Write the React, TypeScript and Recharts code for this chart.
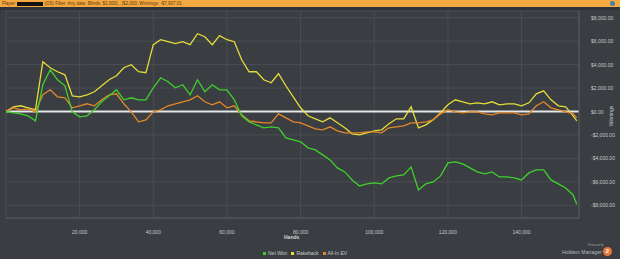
import React from 'react';
import { LineChart, Line, XAxis, YAxis, CartesianGrid, ReferenceLine } from 'recharts';

const hands = [
  0, 2000, 4000, 6000, 8000, 10000, 12000, 14000, 16000, 18000,
  20000, 22000, 24000, 26000, 28000, 30000, 32000, 34000, 36000, 38000,
  40000, 42000, 44000, 46000, 48000, 50000, 52000, 54000, 56000, 58000,
  60000, 62000, 64000, 66000, 68000, 70000, 72000, 74000, 76000, 78000,
  80000, 82000, 84000, 86000, 88000, 90000, 92000, 94000, 96000, 98000,
  100000, 102000, 104000, 106000, 108000, 110000, 112000, 114000, 116000, 118000,
  120000, 122000, 124000, 126000, 128000, 130000, 132000, 134000, 136000, 138000,
  140000, 142000, 144000, 146000, 148000, 150000, 152000, 154000, 155000,
];

const netWon = [
  0, -111, -196, -367, -794, 2280, 3561, 2707, 2195, -26,
  -453, -367, 145, 828, 1341, 1853, 999, 1170, 999, 999,
  2024, 2878, 2536, 2024, 2280, 1426, 2707, 1682, 2280, 1853,
  1853, 999, -367, -880, -1136, -1392, -1307, -1392, -2246, -2417,
  -2588, -3100, -3271, -3698, -4125, -4808, -5150, -5833, -6345, -6174,
  -6089, -6174, -5662, -5491, -5406, -4723, -6687, -6174, -6004, -5491,
  -4381, -4296, -4466, -4808, -5150, -5320, -5150, -5577, -5577, -5662,
  -5833, -5235, -4979, -4979, -5833, -6174, -6516, -7114, -7907,
];

const rakeback = [
  0, 400, 490, 320, 150, 4240, 3730, 3390, 3130, 1340,
  1255, 1426, 1682, 2195, 2707, 3049, 3732, 3988, 3390, 3305,
  5696, 6123, 5952, 5782, 5952, 5696, 6636, 6379, 5696, 6465,
  6123, 5952, 4415, 3390, 3390, 2707, 2451, 3220, 2195, 1255,
  316, -367, -623, -880, -538, -965, -1392, -1904, -1990, -1819,
  -1648, -1563, -1050, -623, -623, 401, -1392, -1136, -709, -111,
  572, 999, 828, 658, 743, 658, 828, 572, 658, 658,
  487, 743, 1512, 1768, 999, 487, 401, -367, -794,
];

const allInEV = [
  0, 316, 145, 231, -26, 1426, 1853, 1255, 1170, 316,
  487, 658, 487, 999, 1426, 1512, 658, -26, -880, -709,
  -26, 145, 487, 658, 828, 999, 1341, 828, 572, 828,
  316, 487, -282, -794, -880, -965, -965, -196, -538, -880,
  -965, -1221, -1477, -1563, -1307, -1648, -1819, -1819, -1819, -1734,
  -1734, -1819, -1392, -1307, -1221, -965, -965, -880, -709, -196,
  145, -26, -111, -26, -26, -196, -282, -111, -111, -111,
  -282, -196, 487, 828, 316, 145, -26, -196, -538,
];

const xTicks = [20000, 40000, 60000, 80000, 100000, 120000, 140000];
const yTicks = [-8000, -6000, -4000, -2000, 0, 2000, 4000, 6000, 8000];

const data = hands.map((h, i) => ({
  hands: h,
  netWon: netWon[i],
  rakeback: rakeback[i],
  allInEV: allInEV[i],
}));

const FONT = '"Liberation Sans", Arial, sans-serif';

const fmtMoney = (v: number) => {
  const s = Math.abs(v).toLocaleString('en-US', { minimumFractionDigits: 2, maximumFractionDigits: 2 });
  return (v < 0 ? '-$' : '$') + s;
};

const XTick = (props: any) => {
  const { x, y, payload } = props;
  return (
    <text x={x} y={y + 8} textAnchor="middle" fill="#c8cacc" fontSize={5} fontFamily={FONT}>
      {payload.value.toLocaleString('en-US')}
    </text>
  );
};

const YTick = (props: any) => {
  const { x, y, payload } = props;
  return (
    <text x={x + 4} y={y + 2} textAnchor="start" fill="#c8cacc" fontSize={5} fontFamily={FONT}>
      {fmtMoney(payload.value)}
    </text>
  );
};

const GREEN = '#3fd12b';
const YELLOW = '#e4dc3a';
const ORANGE = '#e3872c';

export default function App() {
  return (
    <div style={{ position: 'absolute', left: 0, top: 0, width: 620, height: 259, background: '#3a3d41', overflow: 'hidden', fontFamily: FONT }}>
      <div style={{ position: 'absolute', left: 0, top: 0, width: 620, height: 7, background: '#f4a941' }} />
      <div style={{ position: 'absolute', left: 0, top: 7, width: 620, height: 3, background: '#2f3236' }} />
      <div style={{ position: 'absolute', left: 2, top: 1, fontSize: 4.5, lineHeight: '5px', color: '#5a3a10', whiteSpace: 'nowrap' }}>
        Player: <span style={{ display: 'inline-block', width: 26, height: 4, background: '#111', verticalAlign: 'middle' }} /> (OS)  Filter: Any date; Blinds: $3,000(...)$2,000;  Winnings: -$7,907.01
      </div>
      <div style={{ position: 'absolute', left: 610, top: 1, width: 5, height: 5, borderRadius: 3, background: '#4a7fa8' }} />
      <div style={{ position: 'absolute', left: 0, top: 0 }}>
        <LineChart width={620} height={259} data={data} margin={{ top: 11, right: 0, bottom: 0, left: 6 }}>
          <CartesianGrid stroke="#4a4e53" strokeWidth={1} vertical={true} horizontal={true} />
          <XAxis
            dataKey="hands"
            type="number"
            domain={[0, 155600]}
            ticks={xTicks}
            tick={<XTick />}
            tickLine={false}
            axisLine={{ stroke: '#55595e' }}
            height={41}
            allowDataOverflow
          />
          <YAxis
            orientation="right"
            type="number"
            domain={[-9080, 8570]}
            ticks={yTicks}
            tick={<YTick />}
            tickLine={false}
            axisLine={{ stroke: '#55595e' }}
            width={41}
            allowDataOverflow
          />
          <ReferenceLine y={0} stroke="#e6e6e6" strokeWidth={2} />
          <Line type="linear" dataKey="rakeback" stroke={YELLOW} strokeWidth={1.3} dot={false} isAnimationActive={false} />
          <Line type="linear" dataKey="allInEV" stroke={ORANGE} strokeWidth={1.3} dot={false} isAnimationActive={false} />
          <Line type="linear" dataKey="netWon" stroke={GREEN} strokeWidth={1.3} dot={false} isAnimationActive={false} />
        </LineChart>
      </div>
      <div style={{ position: 'absolute', left: 284, top: 234, fontSize: 5, color: '#d8d8d8', fontWeight: 'bold' }}>Hands</div>
      <div style={{ position: 'absolute', left: 611, top: 116, fontSize: 5, color: '#c8cacc', transform: 'translate(-50%, -50%) rotate(-90deg)', whiteSpace: 'nowrap' }}>Winnings</div>
      <div style={{ position: 'absolute', left: 263, top: 250, fontSize: 5, color: '#c8cacc', whiteSpace: 'nowrap', display: 'flex', alignItems: 'center' }}>
        <span style={{ display: 'inline-block', width: 3, height: 3, background: GREEN, marginRight: 2 }} />Net Won
        <span style={{ display: 'inline-block', width: 3, height: 3, background: YELLOW, marginLeft: 4, marginRight: 2 }} />Rakeback
        <span style={{ display: 'inline-block', width: 3, height: 3, background: ORANGE, marginLeft: 4, marginRight: 2 }} />All-In EV
      </div>
      <div style={{ position: 'absolute', left: 588, top: 243, fontSize: 3, color: '#9a9c9e', whiteSpace: 'nowrap' }}>Powered by</div>
      <div style={{ position: 'absolute', left: 562, top: 249, fontSize: 5.2, color: '#b8babc', whiteSpace: 'nowrap' }}>Holdem Manager</div>
      <div style={{ position: 'absolute', left: 603, top: 247, width: 9, height: 9, borderRadius: 5, background: '#e8743a', color: '#fff', fontSize: 6, fontWeight: 'bold', textAlign: 'center', lineHeight: '9px' }}>2</div>
    </div>
  );
}
